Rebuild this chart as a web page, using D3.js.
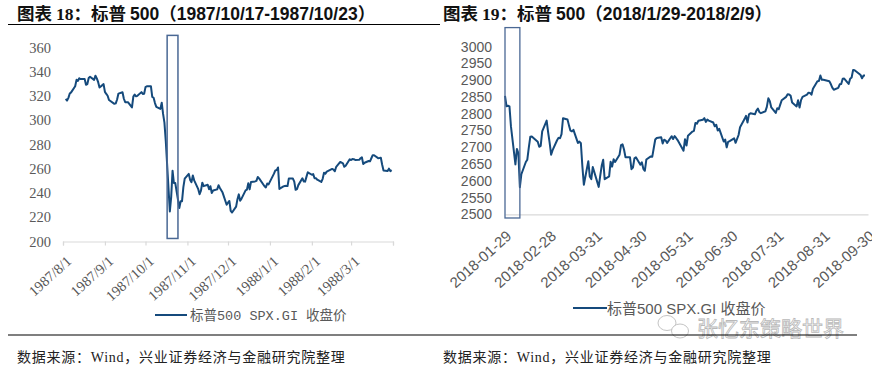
<!DOCTYPE html>
<html>
<head>
<meta charset="utf-8">
<script src="https://cdn.jsdelivr.net/npm/d3@7"></script>
<style>
  body { margin: 0; background: #fff; }
  svg { display: block; }
</style>
</head>
<body>
<svg id="chart" width="872" height="365"></svg>
<script>
// ── Data ────────────────────────────────────────────────────────────────────
const dates87 = [
  "1987-08-03","1987-08-04","1987-08-05","1987-08-06","1987-08-07","1987-08-10","1987-08-11","1987-08-12","1987-08-13","1987-08-14",
  "1987-08-17","1987-08-18","1987-08-19","1987-08-20","1987-08-21","1987-08-24","1987-08-25","1987-08-26","1987-08-27","1987-08-28","1987-08-31",
  "1987-09-01","1987-09-02","1987-09-03","1987-09-04","1987-09-08","1987-09-09","1987-09-10","1987-09-11","1987-09-14","1987-09-15",
  "1987-09-16","1987-09-17","1987-09-18","1987-09-21","1987-09-22","1987-09-23","1987-09-24","1987-09-25","1987-09-28","1987-09-29","1987-09-30",
  "1987-10-01","1987-10-02","1987-10-05","1987-10-06","1987-10-07","1987-10-08","1987-10-09","1987-10-12","1987-10-13","1987-10-14","1987-10-15",
  "1987-10-16","1987-10-19","1987-10-20","1987-10-21","1987-10-22","1987-10-23","1987-10-26","1987-10-27","1987-10-28","1987-10-29","1987-10-30",
  "1987-11-02","1987-11-03","1987-11-04","1987-11-05","1987-11-06","1987-11-09","1987-11-10","1987-11-11","1987-11-12","1987-11-13",
  "1987-11-16","1987-11-17","1987-11-18","1987-11-19","1987-11-20","1987-11-23","1987-11-24","1987-11-25","1987-11-27","1987-11-30",
  "1987-12-01","1987-12-02","1987-12-03","1987-12-04","1987-12-07","1987-12-08","1987-12-09","1987-12-10","1987-12-11","1987-12-14","1987-12-15",
  "1987-12-16","1987-12-17","1987-12-18","1987-12-21","1987-12-22","1987-12-23","1987-12-24","1987-12-28","1987-12-29","1987-12-30","1987-12-31",
  "1988-01-04","1988-01-05","1988-01-06","1988-01-07","1988-01-08","1988-01-11","1988-01-12","1988-01-13","1988-01-14","1988-01-15",
  "1988-01-18","1988-01-19","1988-01-20","1988-01-21","1988-01-22","1988-01-25","1988-01-26","1988-01-27","1988-01-28","1988-01-29",
  "1988-02-01","1988-02-02","1988-02-03","1988-02-04","1988-02-05","1988-02-08","1988-02-09","1988-02-10","1988-02-11","1988-02-12",
  "1988-02-16","1988-02-17","1988-02-18","1988-02-19","1988-02-22","1988-02-23","1988-02-24","1988-02-25","1988-02-26","1988-02-29",
  "1988-03-01","1988-03-02","1988-03-03","1988-03-04","1988-03-07","1988-03-08","1988-03-09","1988-03-10","1988-03-11","1988-03-14","1988-03-15",
  "1988-03-16","1988-03-17","1988-03-18","1988-03-21","1988-03-22","1988-03-23","1988-03-24","1988-03-25","1988-03-28","1988-03-29","1988-03-30","1988-03-31"
];
const spx87 = [
  317.57,316.23,318.45,322.09,323.00,328.00,333.33,332.39,334.65,333.99,
  334.11,329.25,329.83,334.84,335.90,333.33,336.77,334.57,331.38,327.04,329.80,
  323.40,321.68,320.21,316.70,313.56,313.92,317.13,321.98,323.08,317.74,
  314.86,314.93,314.86,310.54,319.50,321.19,319.72,320.16,323.20,321.69,321.83,
  327.33,328.07,328.08,319.22,318.54,314.16,311.07,309.39,314.52,305.23,298.08,
  282.70,224.84,236.83,258.38,248.25,248.22,227.67,233.19,233.28,244.77,251.79,
  255.75,250.82,248.96,254.48,250.41,243.17,239.00,241.90,248.52,245.64,
  246.76,243.04,245.55,240.05,242.00,242.99,246.39,244.10,240.34,230.30,
  232.00,233.45,225.21,223.92,228.76,234.91,238.89,233.57,235.32,242.19,242.81,
  248.08,242.98,249.16,249.54,249.95,253.16,252.03,245.57,244.59,247.86,247.08,
  255.94,258.63,258.89,261.07,243.40,245.42,245.81,245.88,245.69,252.05,
  251.88,249.32,242.63,243.14,246.50,252.17,249.57,249.38,253.29,257.07,
  255.04,255.57,252.21,252.21,250.96,249.10,251.72,256.66,255.95,257.63,
  259.83,259.21,257.91,261.61,265.64,265.02,264.43,261.58,262.46,267.82,
  267.22,267.98,267.88,267.30,267.38,268.65,269.43,263.84,264.94,266.37,266.13,
  268.65,271.22,271.12,268.74,268.84,269.06,263.35,258.51,258.06,260.07,258.07,258.89
];
const tickDates87  = ["1987-08-01","1987-09-01","1987-10-01","1987-11-01","1987-12-01","1988-01-01","1988-02-01","1988-03-01","1988-04-01"];
const tickLabels87 = ["1987/8/1","1987/9/1","1987/10/1","1987/11/1","1987/12/1","1988/1/1","1988/2/1","1988/3/1",""];
const yTicks87     = [200, 220, 240, 260, 280, 300, 320, 340, 360];
const box87        = ["1987-10-17", "1987-10-25"];

const dates18 = [
  "2018-01-29","2018-01-30","2018-01-31",
  "2018-02-01","2018-02-02","2018-02-05","2018-02-06","2018-02-07","2018-02-08","2018-02-09","2018-02-12","2018-02-13","2018-02-14",
  "2018-02-15","2018-02-16","2018-02-20","2018-02-21","2018-02-22","2018-02-23","2018-02-26","2018-02-27","2018-02-28",
  "2018-03-01","2018-03-02","2018-03-05","2018-03-06","2018-03-07","2018-03-08","2018-03-09","2018-03-12","2018-03-13","2018-03-14","2018-03-15",
  "2018-03-16","2018-03-19","2018-03-20","2018-03-21","2018-03-22","2018-03-23","2018-03-26","2018-03-27","2018-03-28","2018-03-29",
  "2018-04-02","2018-04-03","2018-04-04","2018-04-05","2018-04-06","2018-04-09","2018-04-10","2018-04-11","2018-04-12","2018-04-13","2018-04-16",
  "2018-04-17","2018-04-18","2018-04-19","2018-04-20","2018-04-23","2018-04-24","2018-04-25","2018-04-26","2018-04-27","2018-04-30",
  "2018-05-01","2018-05-02","2018-05-03","2018-05-04","2018-05-07","2018-05-08","2018-05-09","2018-05-10","2018-05-11","2018-05-14","2018-05-15",
  "2018-05-16","2018-05-17","2018-05-18","2018-05-21","2018-05-22","2018-05-23","2018-05-24","2018-05-25","2018-05-29","2018-05-30","2018-05-31",
  "2018-06-01","2018-06-04","2018-06-05","2018-06-06","2018-06-07","2018-06-08","2018-06-11","2018-06-12","2018-06-13","2018-06-14","2018-06-15",
  "2018-06-18","2018-06-19","2018-06-20","2018-06-21","2018-06-22","2018-06-25","2018-06-26","2018-06-27","2018-06-28","2018-06-29",
  "2018-07-02","2018-07-03","2018-07-05","2018-07-06","2018-07-09","2018-07-10","2018-07-11","2018-07-12","2018-07-13","2018-07-16","2018-07-17",
  "2018-07-18","2018-07-19","2018-07-20","2018-07-23","2018-07-24","2018-07-25","2018-07-26","2018-07-27","2018-07-30","2018-07-31",
  "2018-08-01","2018-08-02","2018-08-03","2018-08-06","2018-08-07","2018-08-08","2018-08-09","2018-08-10","2018-08-13","2018-08-14","2018-08-15","2018-08-16",
  "2018-08-17","2018-08-20","2018-08-21","2018-08-22","2018-08-23","2018-08-24","2018-08-27","2018-08-28","2018-08-29","2018-08-30","2018-08-31",
  "2018-09-04","2018-09-05","2018-09-06","2018-09-07","2018-09-10","2018-09-11","2018-09-12","2018-09-13","2018-09-14","2018-09-17",
  "2018-09-18","2018-09-19","2018-09-20","2018-09-21","2018-09-24","2018-09-25","2018-09-26","2018-09-27","2018-09-28"
];
const spx18 = [
  2853.53,2822.43,2823.81,
  2821.98,2762.13,2648.94,2695.14,2681.66,2581.00,2619.55,2656.00,2662.94,2698.63,
  2731.20,2732.22,2716.26,2701.33,2703.96,2747.30,2779.60,2744.28,2713.83,
  2677.67,2691.25,2720.94,2728.12,2726.80,2738.97,2786.57,2783.02,2765.31,2749.48,2747.33,
  2752.01,2712.92,2716.94,2711.93,2643.69,2588.26,2658.55,2612.62,2605.00,2640.87,
  2581.88,2614.45,2644.69,2662.84,2604.47,2613.16,2656.87,2642.19,2663.99,2656.30,2677.84,
  2706.39,2708.64,2693.13,2670.14,2670.29,2634.56,2639.40,2666.94,2669.91,2648.05,
  2654.80,2635.67,2629.73,2663.42,2672.63,2671.92,2697.79,2723.07,2727.72,2730.13,2711.45,
  2722.46,2720.13,2712.97,2733.01,2724.44,2733.29,2727.76,2721.33,2689.86,2724.01,2705.27,
  2734.62,2746.87,2748.80,2772.35,2770.37,2779.03,2782.00,2786.85,2775.63,2782.49,2779.66,
  2773.75,2762.59,2767.32,2749.76,2754.88,2717.07,2723.06,2699.63,2716.31,2718.37,
  2726.71,2713.22,2736.61,2759.82,2784.17,2793.84,2774.02,2798.29,2801.31,2798.43,2809.55,
  2815.62,2804.49,2801.83,2806.98,2820.40,2846.07,2837.44,2818.82,2802.60,2816.29,
  2813.36,2827.22,2840.35,2850.40,2858.45,2857.70,2853.58,2833.28,2821.93,2839.96,2818.37,2840.69,
  2850.13,2857.05,2862.96,2861.82,2856.98,2874.69,2896.74,2897.52,2914.04,2901.13,2901.52,
  2896.72,2888.60,2878.05,2871.68,2877.13,2887.89,2888.92,2904.18,2904.98,2888.80,
  2904.31,2907.95,2930.75,2929.67,2919.37,2915.56,2905.97,2914.00,2913.98
];
const tickDates18  = ["2018-01-29","2018-02-28","2018-03-31","2018-04-30","2018-05-31","2018-06-30","2018-07-31","2018-08-31","2018-09-30"];
const tickLabels18 = ["2018-01-29","2018-02-28","2018-03-31","2018-04-30","2018-05-31","2018-06-30","2018-07-31","2018-08-31","2018-09-30"];
const yTicks18     = [2500, 2550, 2600, 2650, 2700, 2750, 2800, 2850, 2900, 2950, 3000];
const box18        = ["2018-01-29", "2018-02-08"];

const legendLabel = "标普500 SPX.GI 收盘价";
const sourceText  = "数据来源：Wind，兴业证券经济与金融研究院整理";

// ── Styles ──────────────────────────────────────────────────────────────────
const LINE_COLOR = "#154a7c";
const BOX_COLOR  = "#4a6894";
const TEXT_GRAY  = "#595959";
const AXIS_GRAY  = "#d9d9d9";
const SERIF = "'Liberation Serif', 'Times New Roman', 'Noto Sans CJK SC', serif";
const SANS  = "'Liberation Sans', Arial, 'Noto Sans CJK SC', sans-serif";
const CJK   = "'Noto Sans CJK SC', sans-serif";
const MONO  = "'Liberation Mono', 'Noto Sans CJK SC', monospace";

const parse = d3.timeParse("%Y-%m-%d");
const svg = d3.select("#chart");

function title(x, num, rest) {
  const t = svg.append("text").attr("x", x).attr("y", 19.5)
    .attr("font-size", "17.5px").attr("font-weight", "700").attr("fill", "#111");
  t.append("tspan").attr("font-family", CJK).text("图表 ");
  t.append("tspan").attr("font-family", SERIF).text(num);
  t.append("tspan").attr("font-family", CJK).text("：标普 ");
  t.append("tspan").attr("font-family", SANS).text(rest);
}

function source(x) {
  svg.append("text").attr("x", x).attr("y", 362)
    .attr("font-family", SERIF).attr("font-size", "14px").attr("fill", "#222")
    .attr("letter-spacing", "0.75px")
    .text(sourceText);
}

// ── Left panel: 1987 ────────────────────────────────────────────────────────
{
  const x = d3.scaleTime()
    .domain([parse("1987-08-01"), parse("1988-04-01")])
    .range([63, 393]);
  const y = d3.scaleLinear().domain([200, 360]).range([241.5, 47.5]);

  title(17, "18", "500（1987/10/17-1987/10/23）");
  svg.append("line").attr("x1", 8).attr("x2", 440).attr("y1", 24.5).attr("y2", 24.5)
    .attr("stroke", "#000").attr("stroke-width", 1.2);

  // x axis
  const xAxis = d3.axisBottom(x)
    .tickValues(tickDates87.map(parse))
    .tickSize(4)
    .tickFormat((d, i) => tickLabels87[i]);

  const gx = svg.append("g")
    .attr("transform", `translate(0,${y(200)})`)
    .call(xAxis);
  gx.select(".domain").attr("stroke", AXIS_GRAY).attr("stroke-width", 1.2);
  gx.selectAll(".tick line").attr("stroke", AXIS_GRAY).attr("stroke-width", 1.2);
  gx.selectAll(".tick text")
    .attr("font-family", SERIF).attr("font-size", "14.5px").attr("fill", TEXT_GRAY)
    .attr("text-anchor", "end")
    .attr("y", 0).attr("dy", 0)
    .attr("transform", "translate(9,21) rotate(-42)");

  // y axis
  const gy = svg.append("g")
    .attr("transform", "translate(51,0)")
    .call(d3.axisLeft(y).tickValues(yTicks87).tickSize(0).tickPadding(0));
  gy.select(".domain").remove();
  gy.selectAll(".tick text")
    .attr("font-family", SERIF).attr("font-size", "14.5px").attr("fill", TEXT_GRAY);

  // line
  const line = d3.line().x((d, i) => x(parse(dates87[i]))).y(d => y(d));
  svg.append("path").datum(spx87)
    .attr("fill", "none").attr("stroke", LINE_COLOR).attr("stroke-width", 2)
    .attr("stroke-linejoin", "round").attr("d", line);

  // highlight box
  const bx0 = x(parse(box87[0])), bx1 = x(parse(box87[1]));
  svg.append("rect")
    .attr("x", bx0).attr("y", y(370))
    .attr("width", bx1 - bx0).attr("height", y(202.5) - y(370))
    .attr("fill", "none").attr("stroke", BOX_COLOR).attr("stroke-width", 1.5);

  // legend
  svg.append("line").attr("x1", 155).attr("x2", 187).attr("y1", 315).attr("y2", 315)
    .attr("stroke", LINE_COLOR).attr("stroke-width", 2);
  svg.append("text").attr("x", 190).attr("y", 320)
    .attr("font-family", MONO).attr("font-size", "13.5px").attr("fill", TEXT_GRAY)
    .text(legendLabel);

  svg.append("line").attr("x1", 8).attr("x2", 440).attr("y1", 335).attr("y2", 335)
    .attr("stroke", "#000").attr("stroke-width", 1.2);
  source(17);
}

// ── Right panel: 2018 ───────────────────────────────────────────────────────
{
  const x = d3.scaleTime()
    .domain([parse("2018-01-29"), parse("2018-09-30")])
    .range([505, 868]);
  const y = d3.scaleLinear().domain([2500, 3000]).range([214.3, 46.7]);

  title(443, "19", "500（2018/1/29-2018/2/9）");

  // x axis
  const xAxis = d3.axisBottom(x)
    .tickValues(tickDates18.map(parse))
    .tickSize(0)
    .tickFormat((d, i) => tickLabels18[i]);

  const gx = svg.append("g")
    .attr("transform", `translate(0,${y(2500)})`)
    .call(xAxis);
  gx.select(".domain").attr("stroke", AXIS_GRAY).attr("stroke-width", 1.2);
  gx.selectAll(".tick text")
    .attr("font-family", SANS).attr("font-size", "15px").attr("fill", TEXT_GRAY)
    .attr("text-anchor", "end")
    .attr("y", 0).attr("dy", 0)
    .attr("transform", "translate(7,23) rotate(-42)");

  // y axis
  const gy = svg.append("g")
    .attr("transform", "translate(492,0)")
    .call(d3.axisLeft(y).tickValues(yTicks18).tickSize(0).tickPadding(0).tickFormat(d3.format("d")));
  gy.select(".domain").remove();
  gy.selectAll(".tick text")
    .attr("font-family", SANS).attr("font-size", "14px").attr("fill", TEXT_GRAY);

  const line = d3.line().x((d, i) => x(parse(dates18[i]))).y(d => y(d));
  svg.append("path").datum(spx18)
    .attr("fill", "none").attr("stroke", LINE_COLOR).attr("stroke-width", 2)
    .attr("stroke-linejoin", "round").attr("d", line);

  const bx0 = x(parse(box18[0])), bx1 = x(parse(box18[1]));
  svg.append("rect")
    .attr("x", bx0).attr("y", y(3057))
    .attr("width", bx1 - bx0).attr("height", y(2489) - y(3057))
    .attr("fill", "none").attr("stroke", BOX_COLOR).attr("stroke-width", 1.3);

  // legend
  svg.append("line").attr("x1", 573).attr("x2", 607).attr("y1", 308).attr("y2", 308)
    .attr("stroke", LINE_COLOR).attr("stroke-width", 2);
  svg.append("text").attr("x", 607).attr("y", 313.5)
    .attr("font-family", SANS).attr("font-size", "15px").attr("fill", TEXT_GRAY)
    .text(legendLabel);

  // watermark
  const wm = svg.append("g").attr("fill", "#fff").attr("stroke", "#c4c4c4").attr("stroke-width", 1);
  wm.append("ellipse").attr("cx", 667).attr("cy", 323).attr("rx", 9).attr("ry", 7.5);
  wm.append("ellipse").attr("cx", 680).attr("cy", 331).attr("rx", 8.5).attr("ry", 7);
  svg.append("text").attr("x", 697).attr("y", 336)
    .attr("font-family", CJK).attr("font-size", "21px")
    .attr("fill", "#fff").attr("stroke", "#b8b8b8").attr("stroke-width", 0.8)
    .text("张忆东策略世界");

  svg.append("line").attr("x1", 440).attr("x2", 857).attr("y1", 335).attr("y2", 335)
    .attr("stroke", "#000").attr("stroke-width", 1.2);
  source(443);
}
</script>
</body>
</html>
